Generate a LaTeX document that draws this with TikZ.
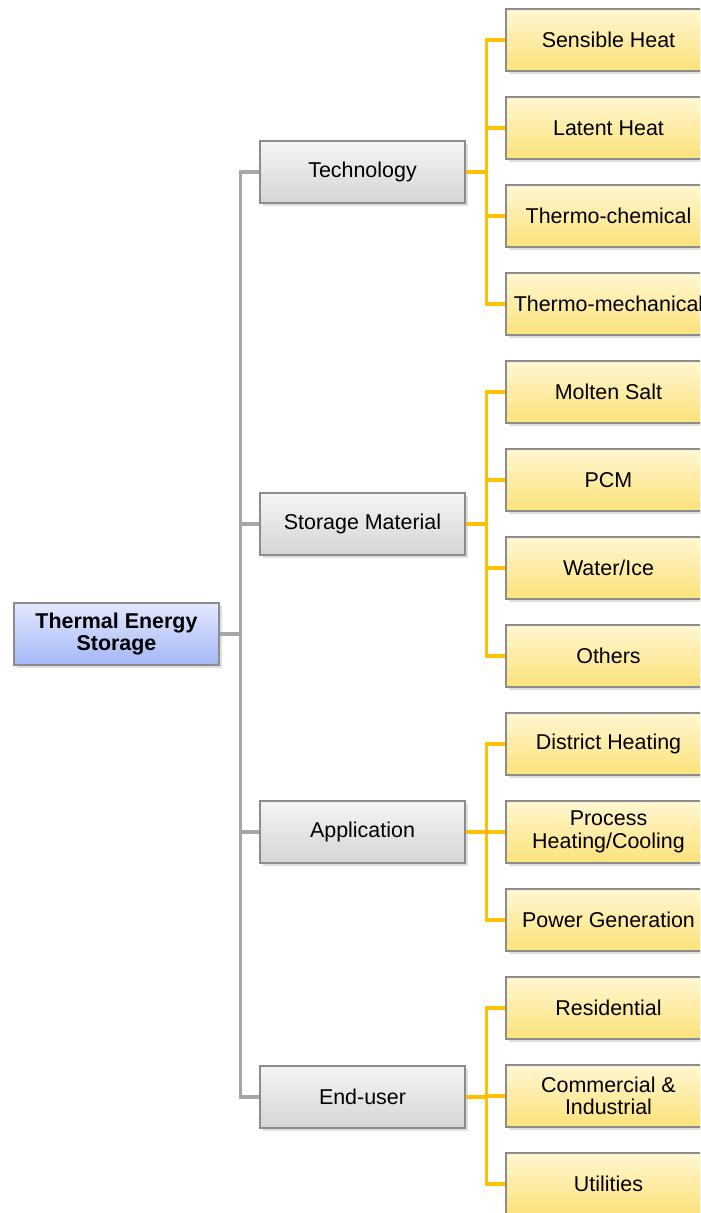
\documentclass[tikz,border=0pt]{standalone}
\usepackage{fontspec}
\setmainfont{Liberation Sans}
\usetikzlibrary{shadows}

\definecolor{rootTop}{HTML}{E4E9FF}
\definecolor{rootBot}{HTML}{A4B6F6}
\definecolor{midTop}{HTML}{F5F5F5}
\definecolor{midBot}{HTML}{D5D5D5}
\definecolor{leafTop}{HTML}{FFF7D2}
\definecolor{leafBot}{HTML}{FCE27A}
\definecolor{boxLine}{HTML}{8C8C8C}
\definecolor{trunkCol}{HTML}{A6A6A6}
\definecolor{branchCol}{HTML}{FFC000}

\tikzset{
    box/.style={draw=boxLine, line width=0.4pt, minimum width=2.05cm, minimum height=0.62cm,
        inner sep=0pt, align=center, font=\fontsize{6.1pt}{6.4pt}\selectfont,
        drop shadow={opacity=0.25, shadow xshift=0.03cm, shadow yshift=-0.03cm}},
    rootbox/.style={box, top color=rootTop, bottom color=rootBot, font=\fontsize{6.1pt}{6.4pt}\selectfont\bfseries},
    midbox/.style={box, top color=midTop, bottom color=midBot},
    leafbox/.style={box, top color=leafTop, bottom color=leafBot},
    trunk/.style={draw=trunkCol, line width=0.9pt},
    branch/.style={draw=branchCol, line width=0.9pt}
}

\begin{document}
\begin{tikzpicture}
    % Frame
    \useasboundingbox (0,0) rectangle (7,-12.13);
    \clip (0,0) rectangle (7,-12.13);

    % Root
    \node[rootbox] (root) at (1.165,-6.34) {Thermal Energy\\Storage};

    % Categories
    \node[midbox] (tech) at (3.625,-1.72) {Technology};
    \node[midbox] (mat)  at (3.625,-5.24) {Storage Material};
    \node[midbox] (app)  at (3.625,-8.32) {Application};
    \node[midbox] (user) at (3.625,-10.97) {End-user};

    % Leaves
    \foreach \name/\y/\txt in {sens/0.40/{Sensible Heat}, lat/1.28/{Latent Heat},
            chem/2.16/{Thermo-chemical}, mech/3.04/{Thermo-mechanical},
            salt/3.92/{Molten Salt}, pcm/4.80/{PCM}, water/5.68/{Water/Ice}, oth/6.56/{Others},
            dist/7.44/{District Heating}, proc/8.32/{Process\\Heating/Cooling},
            pow/9.20/{Power Generation}, res/10.08/{Residential},
            com/10.96/{Commercial \&\\Industrial}, util/11.84/{Utilities}}
        \node[leafbox] (\name) at (6.085,-\y) {\txt};

    % Root to categories
    \foreach \m in {tech,mat,app,user}
        \draw[trunk] (root.east) -- ++(0.205,0) |- (\m.west);

    % Categories to leaves
    \foreach \m/\leaves in {tech/{sens,lat,chem,mech}, mat/{salt,pcm,water,oth},
            app/{dist,proc,pow}, user/{res,com,util}}
        \foreach \l in \leaves
            \draw[branch] (\m.east) -- ++(0.205,0) |- (\l.west);
\end{tikzpicture}
\end{document}
